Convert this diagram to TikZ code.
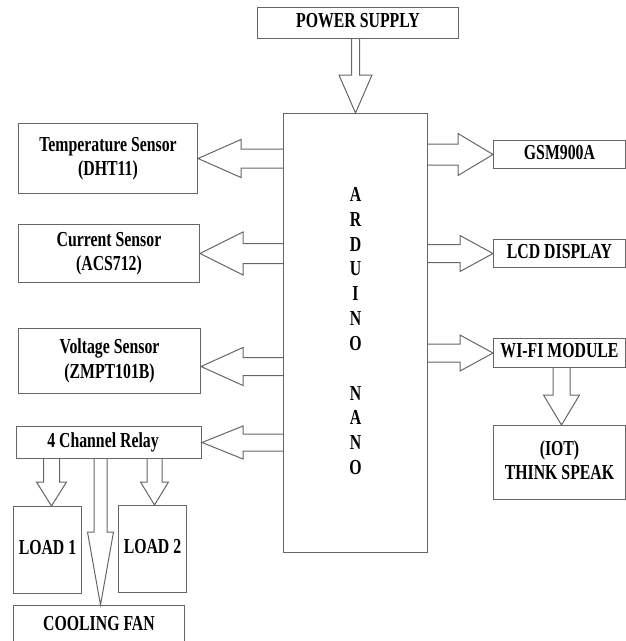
\documentclass[tikz,border=0pt]{standalone}
\usepackage{fontspec}
\setmainfont{Liberation Serif}
\usepackage{graphicx}
\usetikzlibrary{calc}
\newcommand{\tx}[1]{\scalebox{1}[1.35]{\begin{tabular}{@{}c@{}}#1\end{tabular}}}
\newcommand{\blockarrow}[5]{%
  \coordinate (hb) at ($(#2)!#5!(#1)$);
  \draw[blk] ($(#1)!#3!90:(#2)$) -- ($(hb)!#3!90:(#2)$) -- ($(hb)!#4!90:(#2)$) -- (#2)
    -- ($(hb)!#4!-90:(#2)$) -- ($(hb)!#3!-90:(#2)$) -- ($(#1)!#3!-90:(#2)$);
}
\tikzset{
  box/.style={draw=black!60, line width=1pt, inner sep=0pt, anchor=north west, align=center,
    font=\fontsize{15.8}{18}\selectfont\bfseries},
  blk/.style={draw=black!60, line width=1pt, line join=miter}
}
\begin{document}
\begin{tikzpicture}[x=1pt,y=-1pt]
\useasboundingbox (0,0) rectangle (626,641);
\node[box, minimum width=201pt, minimum height=31pt] (ps) at (257,7) {\tx{POWER SUPPLY}};
\node[box, minimum width=144pt, minimum height=439pt, font=\fontsize{15.8}{18.4}\selectfont\bfseries] (ard) at (283,113)
  {\tx{A\\R\\D\\U\\I\\N\\O\\ \\N\\A\\N\\O}};
\node[box, minimum width=179pt, minimum height=70pt] (temp) at (18,123) {\tx{Temperature Sensor\\(DHT11)}};
\node[box, minimum width=181pt, minimum height=58pt] (cur) at (18,224) {\tx{Current Sensor\\(ACS712)}};
\node[box, minimum width=182pt, minimum height=65pt] (volt) at (18,328) {\tx{Voltage Sensor\\(ZMPT101B)}};
\node[box, minimum width=185pt, minimum height=32pt] (relay) at (16,426) {\tx{4 Channel Relay\hspace*{12pt}}};
\node[box, minimum width=68pt, minimum height=87pt] (load1) at (13,506) {\tx{LOAD 1}};
\node[box, minimum width=68pt, minimum height=87pt] (load2) at (118,505) {\tx{LOAD 2}};
\node[box, minimum width=171pt, minimum height=41pt] (fan) at (13,605) {\tx{COOLING FAN}};
\node[box, minimum width=132pt, minimum height=28pt] (gsm) at (493,140) {\tx{GSM900A}};
\node[box, minimum width=132pt, minimum height=28pt] (lcd) at (493,239) {\tx{LCD DISPLAY}};
\node[box, minimum width=132pt, minimum height=29pt] (wifi) at (493,338) {\tx{WI-FI MODULE}};
\node[box, minimum width=132pt, minimum height=74pt] (iot) at (493,425) {\tx{(IOT)\\THINK SPEAK}};

\coordinate (p0) at (ard.north |- ps.south);
\blockarrow{p0}{ard.north}{4pt}{16.5pt}{38pt}
\coordinate (t0) at (ard.west |- temp.east);
\blockarrow{t0}{temp.east}{9.5pt}{19pt}{43pt}
\coordinate (c0) at (ard.west |- cur.east);
\blockarrow{c0}{cur.east}{10pt}{21.5pt}{43pt}
\coordinate (v1) at ($(volt.east)+(0,5.5)$);
\coordinate (v0) at (ard.west |- v1);
\blockarrow{v0}{v1}{9pt}{19pt}{42pt}
\coordinate (r0) at (ard.west |- relay.east);
\blockarrow{r0}{relay.east}{8.5pt}{16.5pt}{41pt}
\coordinate (g0) at (ard.east |- gsm.west);
\blockarrow{g0}{gsm.west}{10.5pt}{21pt}{35pt}
\coordinate (d0) at (ard.east |- lcd.west);
\blockarrow{d0}{lcd.west}{9pt}{18pt}{33pt}
\coordinate (f0) at (ard.east |- wifi.west);
\blockarrow{f0}{wifi.west}{9pt}{18pt}{33pt}
\coordinate (w0) at ($(wifi.south)+(2,0)$);
\coordinate (w1) at (w0 |- iot.north);
\blockarrow{w0}{w1}{8.5pt}{18pt}{30pt}
\coordinate (l1t) at ($(load1.north)+(4,0)$);
\coordinate (l1b) at (l1t |- relay.south);
\blockarrow{l1b}{l1t}{8pt}{15pt}{24pt}
\coordinate (l2t) at ($(load2.north)+(2,0)$);
\coordinate (l2b) at (l2t |- relay.south);
\blockarrow{l2b}{l2t}{7.5pt}{14pt}{23pt}
\coordinate (ft) at ($(fan.north)+(1.5,0)$);
\coordinate (fb) at (ft |- relay.south);
\blockarrow{fb}{ft}{6.5pt}{13pt}{73pt}
\end{tikzpicture}
\end{document}
